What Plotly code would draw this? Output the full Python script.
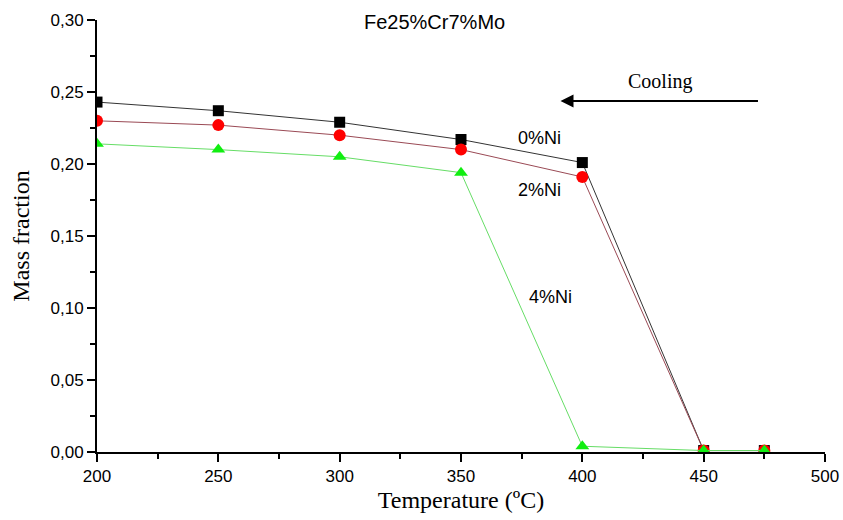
import plotly.graph_objects as go

temps = [200, 250, 300, 350, 400, 450, 475]
ni0 = [0.243, 0.237, 0.229, 0.217, 0.201, 0.001, 0.001]
ni2 = [0.230, 0.227, 0.220, 0.210, 0.191, 0.001, 0.001]
ni4 = [0.214, 0.210, 0.205, 0.194, 0.004, 0.001, 0.001]
yticks = [0.00, 0.05, 0.10, 0.15, 0.20, 0.25, 0.30]
xticks = [200, 250, 300, 350, 400, 450, 500]

fig = go.Figure()
fig.add_trace(go.Scatter(x=temps, y=ni0, mode="lines+markers", name="0%Ni",
                         line=dict(color="#333333", width=1),
                         marker=dict(symbol="square", size=11, color="black")))
fig.add_trace(go.Scatter(x=temps, y=ni2, mode="lines+markers", name="2%Ni",
                         line=dict(color="#9a4a55", width=1),
                         marker=dict(symbol="circle", size=12, color="#ff0000")))
fig.add_trace(go.Scatter(x=temps, y=ni4, mode="lines+markers", name="4%Ni",
                         line=dict(color="#66dd66", width=1),
                         marker=dict(symbol="triangle-up", size=12, color="#11ee11")))

axis_common = dict(showline=True, linecolor="black", linewidth=2, ticks="outside",
                   tickcolor="black", tickwidth=2, ticklen=8, showgrid=False, zeroline=False,
                   automargin=False,
                   tickfont=dict(family="Liberation Sans, Arial", size=17, color="black"))

fig.update_xaxes(range=[200, 500], tickvals=xticks,
                 minor=dict(ticks="outside", ticklen=5, tickwidth=2, tickcolor="black", dtick=25, showgrid=False),
                 title=dict(text="Temperature (ºC)", font=dict(family="Liberation Serif, Times New Roman", size=24, color="black"), standoff=6),
                 **axis_common)
fig.update_yaxes(range=[0, 0.30], tickvals=yticks, tickformat=".2f",
                 minor=dict(ticks="outside", ticklen=5, tickwidth=2, tickcolor="black", dtick=0.025, showgrid=False),
                 title=dict(text="Mass fraction", font=dict(family="Liberation Serif, Times New Roman", size=24, color="black"), standoff=14),
                 **axis_common)

lab_font = dict(family="Liberation Sans, Arial", size=18, color="black")
fig.add_annotation(x=382.5, y=0.218, xref="x", yref="y", text="0%Ni", showarrow=False, font=lab_font)
fig.add_annotation(x=382.5, y=0.182, xref="x", yref="y", text="2%Ni", showarrow=False, font=lab_font)
fig.add_annotation(x=387, y=0.1076, xref="x", yref="y", text="4%Ni", showarrow=False, font=lab_font)
fig.add_annotation(x=432, y=0.257, xref="x", yref="y", text="Cooling", showarrow=False,
                   font=dict(family="Liberation Serif, Times New Roman", size=20, color="black"))
fig.add_annotation(x=391, y=0.2437, ax=473, ay=0.2437, xref="x", yref="y", axref="x", ayref="y",
                   text="", showarrow=True, arrowhead=2, arrowsize=1.3, arrowwidth=2, arrowcolor="black")
fig.add_annotation(x=339, y=0.2985, xref="x", yref="y", text="Fe25%Cr7%Mo", showarrow=False,
                   font=dict(family="Liberation Sans, Arial", size=20, color="black"))

fig.update_layout(width=843, height=520, margin=dict(l=97, r=18, t=20, b=68),
                  plot_bgcolor="white", paper_bgcolor="white", showlegend=False,
                  separators=",.")

fig.write_html("out.html")
